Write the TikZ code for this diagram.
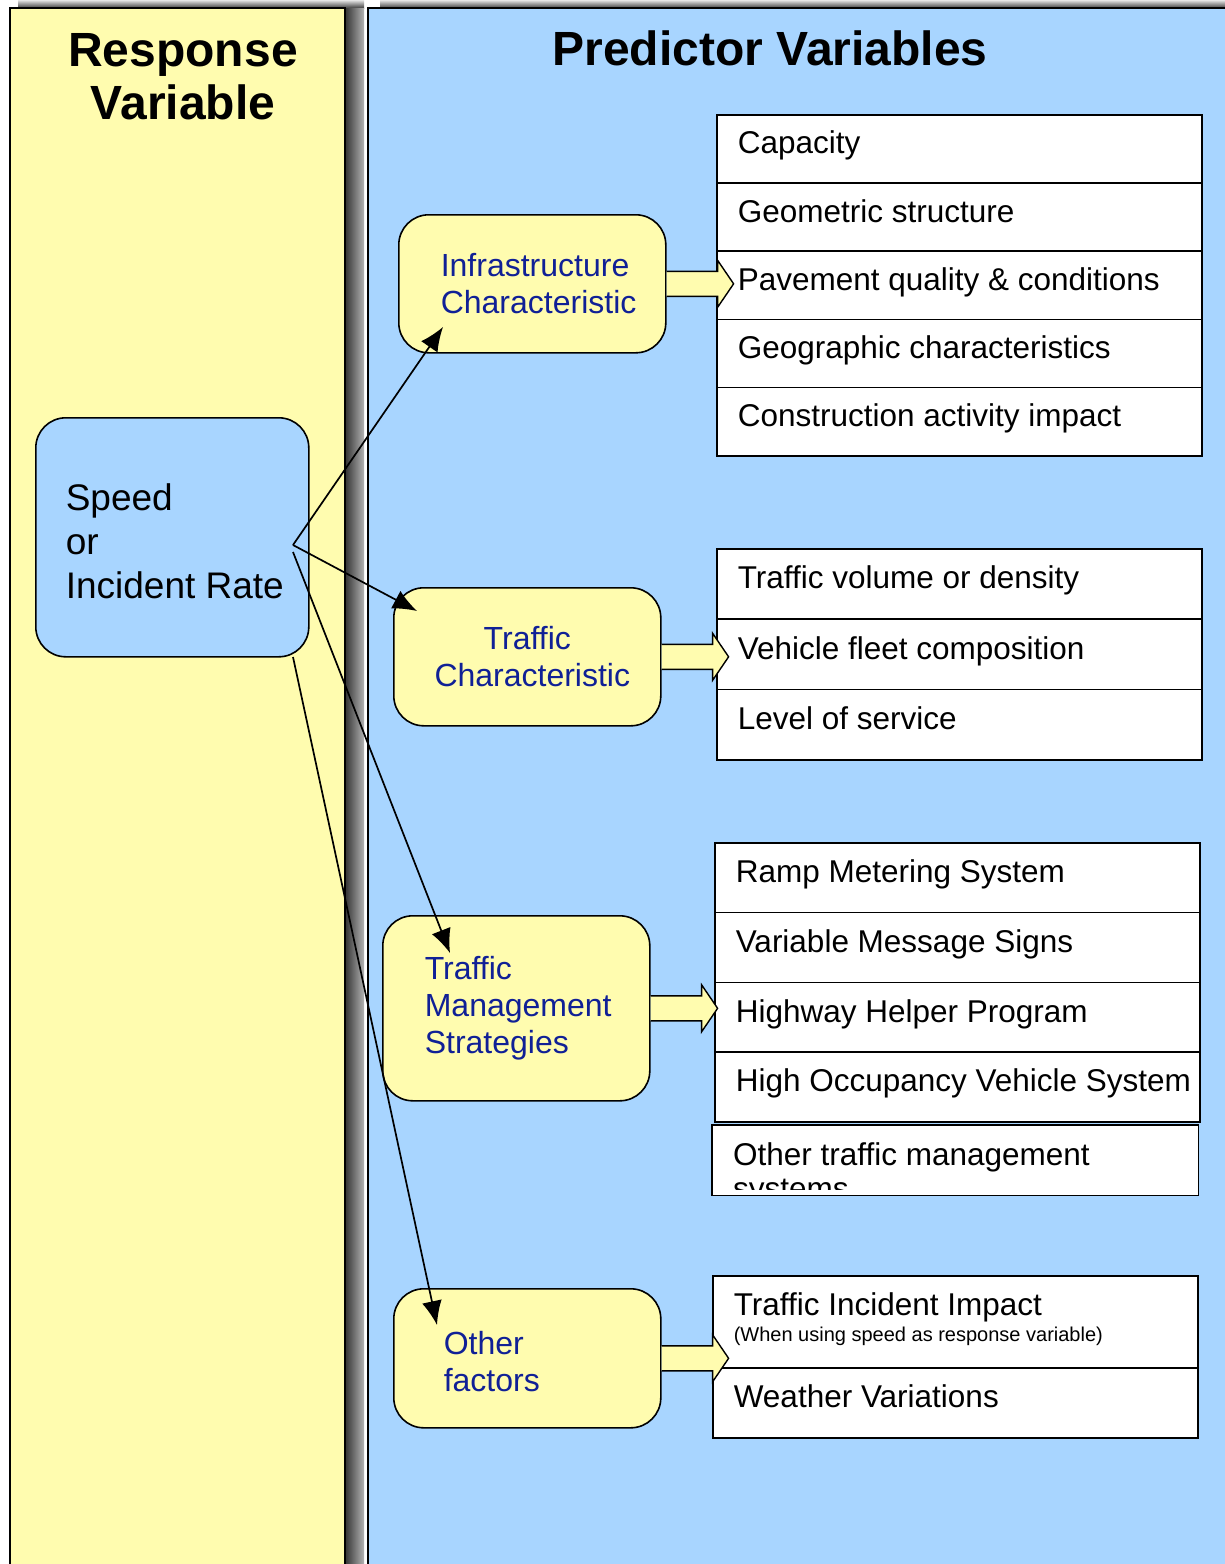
\documentclass[tikz,border=0pt]{standalone}
\usepackage{fontspec}
\setmainfont{Liberation Sans}
\usetikzlibrary{arrows.meta,calc}
\definecolor{panelyellow}{RGB}{255,252,175}
\definecolor{panelblue}{RGB}{168,213,255}
\definecolor{navytext}{RGB}{16,32,150}
\tikzset{
  grpbox/.style={draw, fill=panelyellow, line width=1.6pt, rounded corners=30pt,
    minimum width=267pt, minimum height=138pt, anchor=north west,
    font=\fontsize{32}{37}\selectfont, text=navytext, align=flush left},
  listrow/.style={draw, fill=white, line width=1.6pt, minimum width=485pt,
    anchor=north west, text width=443pt, inner xsep=21pt, inner ysep=0pt,
    align=flush left, font=\fontsize{31.5}{37}\selectfont},
  oneline/.style={text height=23pt, text depth=13pt},
  link/.style={line width=1.7pt, -{Latex[length=24pt,width=20pt]}},
  blockarr/.style={draw, fill=panelyellow, line width=1.4pt, line join=miter},
  titletext/.style={font=\bfseries\fontsize{48}{53}\selectfont, align=center},
}
\newcommand\blockarrowfrom[1]{%
  \draw[blockarr] ($(#1.east)+(0,-12.5)$) -- ++(51,0) -- ++(0,-11) -- ++(16,23.5)
    -- ++(-16,23.5) -- ++(0,-11) -- ++(-51,0);}
\begin{document}
\begin{tikzpicture}[x=1pt,y=-1pt]
\clip (0,0) rectangle (1225,1564);
\fill[white] (0,0) rectangle (1225,1564);
% shadows
\shade[top color=black!10, bottom color=black!75] (18,0) rectangle (364,8);
\shade[top color=black!10, bottom color=black!75] (380,0) rectangle (1225,8);
\shade[left color=black!80, right color=black!30] (345,8) rectangle (364,1564);
% panels
\draw[fill=panelyellow, line width=1.6pt] (10,8) rectangle (345,1600);
\draw[fill=panelblue, line width=1.6pt] (368,8) rectangle (1260,1600);
% titles
\node[titletext] (resp) at (183,76.5) {Response\\Variable};
\node[titletext] (pred) at (770,48) {Predictor Variables};
% response box
\node[draw, fill=panelblue, line width=1.6pt, rounded corners=30pt,
  minimum width=273pt, minimum height=239pt, anchor=north west,
  text width=213pt, inner xsep=30pt, align=flush left,
  font=\fontsize{37}{44}\selectfont] (speed) at (35,417) {\rule{0pt}{34pt}Speed\\or\\\mbox{Incident Rate}};
% group boxes
\node[grpbox, text width=183pt, inner xsep=42pt] (infra) at (398,214) {Infrastructure\\Characteristic};
\node[grpbox, align=center, text width=247pt, inner xsep=10pt] (trafc) at (393,587) {Traffic\\\hspace*{10pt}Characteristic};
\node[grpbox, minimum height=185pt, text width=183pt, inner xsep=42pt] (tms) at (382,915) {Traffic\\Management\\Strategies};
\node[grpbox, minimum height=139pt, text width=167pt, inner xsep=50pt] (other) at (393,1288) {\rule{0pt}{29.4pt}Other\\factors};
% list 1
\node[listrow, oneline, minimum height=68.2pt] (cap) at (716,114) {Capacity};
\node[listrow, oneline, minimum height=68.2pt] (geo) at (716,182.2) {Geometric structure};
\node[listrow, oneline, minimum height=68.2pt] (pave) at (716,250.4) {Pavement quality \& conditions};
\node[listrow, oneline, minimum height=68.2pt] (geog) at (716,318.6) {Geographic characteristics};
\node[listrow, oneline, minimum height=68.2pt] (cons) at (716,386.8) {Construction activity impact};
% list 2
\node[listrow, oneline, minimum height=70.3pt] (vol) at (716,548) {Traffic volume or density};
\node[listrow, oneline, minimum height=70.3pt] (fleet) at (716,618.3) {Vehicle fleet composition};
\node[listrow, oneline, minimum height=70.3pt] (los) at (716,688.6) {Level of service};
% list 3
\node[listrow, oneline, minimum height=69.75pt] (ramp) at (714,842) {Ramp Metering System};
\node[listrow, oneline, minimum height=69.75pt] (vms) at (714,911.75) {Variable Message Signs};
\node[listrow, oneline, minimum height=69.75pt] (hhp) at (714,981.5) {Highway Helper Program};
\node[listrow, oneline, minimum height=69.75pt] (hov) at (714,1051.25) {\mbox{High Occupancy Vehicle System}};
% clipped box
\node[listrow, minimum height=69pt, draw=none] (otm) at (712,1125) {};
\begin{scope}
  \clip (otm.north west) rectangle ($(otm.south east)+(0,-6)$);
  \node[anchor=north west, inner sep=0pt, text width=443pt, align=flush left,
    font=\fontsize{31.5}{37}\selectfont] (otmtext) at (733,1142) {Other traffic management\\[-3pt]systems};
\end{scope}
\draw[line width=1.6pt] (otm.north west) rectangle (otm.south east);
% list 4
\node[listrow, minimum height=92pt] (tii) at (712,1275) {Traffic Incident Impact\\[-11pt]{\fontsize{20}{22}\selectfont (When using speed as response variable)\rule[-10pt]{0pt}{1pt}}};
\node[listrow, oneline, minimum height=70pt] (wv) at (712,1367) {Weather Variations};
% block arrows
\blockarrowfrom{infra}
\blockarrowfrom{trafc}
\blockarrowfrom{tms}
\blockarrowfrom{other}
% connectors
\coordinate (s1) at (293,545);
\coordinate (s2) at (293,552);
\coordinate (s3) at (293,657);
\coordinate (t1) at (443,327);
\coordinate (t2) at (417,611);
\coordinate (t3) at (450,953);
\coordinate (t4) at (437,1325);
\draw[link] (s1) -- (t1);
\draw[link] (s1) -- (t2);
\draw[link] (s2) -- (t3);
\draw[link] (s3) -- (t4);
\end{tikzpicture}
\end{document}
